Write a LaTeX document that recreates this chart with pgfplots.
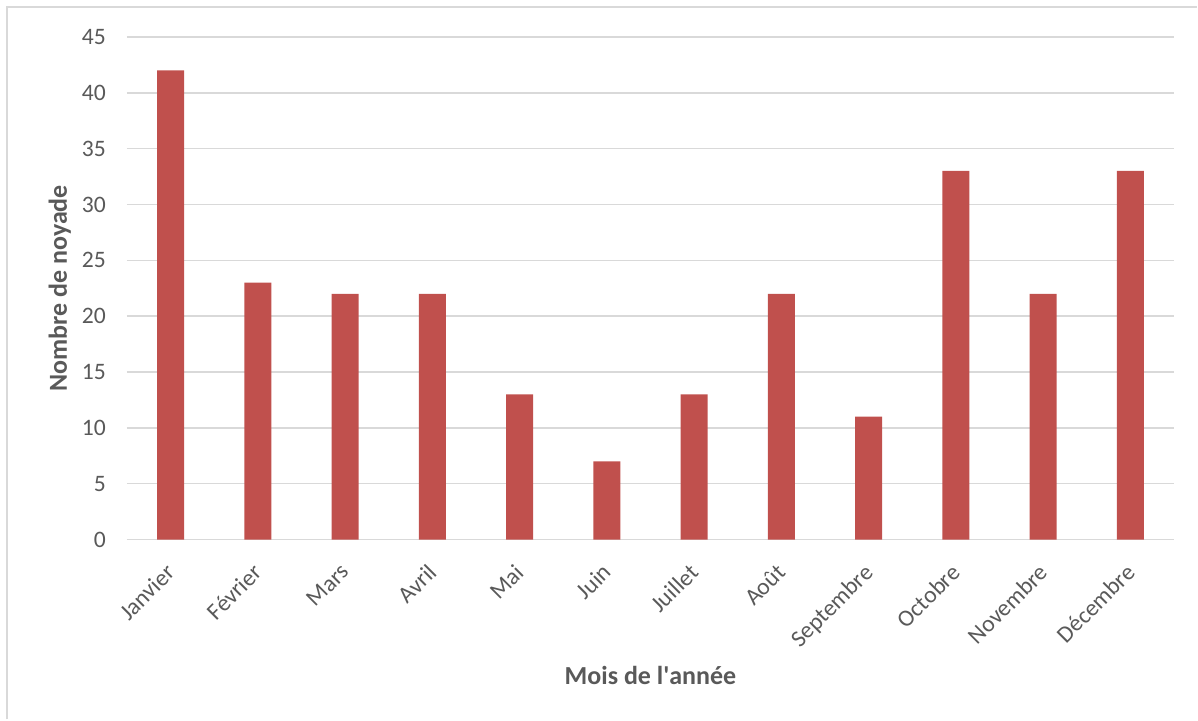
\documentclass[border=0pt]{standalone}
\usepackage{pgfplots}
\pgfplotsset{compat=1.18}
\usepackage{fontspec}
\setmainfont{Carlito}
\definecolor{barred}{HTML}{C0504D}
\definecolor{txtgray}{HTML}{595959}
\definecolor{gridgray}{HTML}{D9D9D9}
\begin{document}
\begin{tikzpicture}
% picture frame, 1px = 0.5pt
\path (0,0) rectangle (599pt,360pt);
\draw[gridgray, line width=1pt] (3.6pt,0) -- (3.6pt,356.4pt) -- (599pt,356.4pt);
\begin{axis}[
    at={(63.5pt,90pt)}, anchor=south west,
    scale only axis,
    width=524pt, height=251.5pt,
    ybar, bar width=13.5pt,
    xmin=-0.5, xmax=11.5,
    ymin=0, ymax=45,
    ytick={0,5,...,45},
    xtick=data,
    xticklabels={Janvier,Février,Mars,Avril,Mai,Juin,Juillet,Août,Septembre,Octobre,Novembre,Décembre},
    x tick label style={rotate=45, anchor=north east, inner sep=1pt, xshift=-9pt, yshift=-5pt},
    tick label style={font=\fontsize{11.8}{13}\selectfont, text=txtgray},
    /pgf/number format/assume math mode=true,
    ymajorgrids, grid style={gridgray, line width=0.75pt},
    axis x line*=bottom, axis y line*=left,
    y axis line style={draw=none},
    x axis line style={gridgray, line width=0.75pt},
    major tick length=0pt,
    xlabel={Mois de l\textquotesingle année},
    ylabel={Nombre de noyade},
    label style={font=\bfseries\fontsize{13}{15}\selectfont, text=txtgray},
    xlabel style={at={(axis description cs:0.5,-0.270)}, anchor=center},
    ylabel style={at={(axis description cs:-0.064,0.5)}, anchor=center, rotate=0},
    yticklabel style={anchor=east, xshift=-7pt},
]
\addplot[fill=barred, draw=none] coordinates {
(0,42) (1,23) (2,22) (3,22) (4,13) (5,7) (6,13) (7,22) (8,11) (9,33) (10,22) (11,33)
};
\end{axis}
\end{tikzpicture}
\end{document}
